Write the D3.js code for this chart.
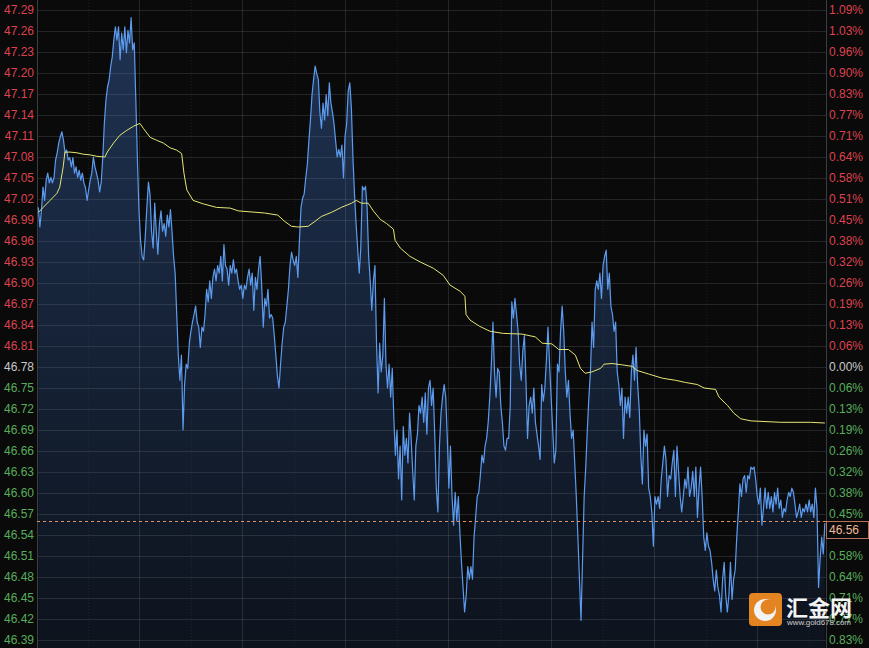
<!DOCTYPE html>
<html><head><meta charset="utf-8">
<script src="https://cdn.jsdelivr.net/npm/d3@7"></script>
<style>html,body{margin:0;padding:0;background:#0a0a0a;overflow:hidden}</style>
</head><body><svg id="c" width="869" height="648"></svg>
<script>
// ---------- data ----------
const basePrice = 46.78;
const lastPrice = 46.56;
const priceTicks = [47.29,47.26,47.23,47.20,47.17,47.14,47.11,47.08,47.05,47.02,46.99,46.96,46.93,46.90,46.87,46.84,46.81,46.78,46.75,46.72,46.69,46.66,46.63,46.60,46.57,46.54,46.51,46.48,46.45,46.42,46.39];
const sessionMinutes = 1380;
const gridMinutes = [180,360,540,720,900,1080,1260];
const halfGridMinutes = [90,270,450,630,810,990,1170,1350];
const priceStartMinute = 3.5, priceEndMinute = 1378;
const prices = [
47.008,46.980,47.004,47.037,47.018,47.047,47.057,47.043,47.051,47.043,47.051,47.076,47.086,47.100,47.109,47.116,47.104,47.086,47.090,47.076,
47.079,47.066,47.079,47.057,47.066,47.051,47.061,47.047,47.057,47.043,47.036,47.018,47.033,47.047,47.057,47.080,47.066,47.057,47.047,47.030,
47.044,47.080,47.129,47.161,47.180,47.190,47.209,47.223,47.247,47.266,47.247,47.266,47.219,47.257,47.233,47.266,47.229,47.261,47.243,47.279,
47.233,47.243,47.161,47.076,47.004,46.961,46.938,46.933,46.967,47.008,47.044,47.027,46.974,46.950,47.014,46.974,46.941,46.985,47.003,46.974,
46.985,46.967,46.997,46.980,47.005,46.974,46.938,46.914,46.855,46.797,46.761,46.797,46.690,46.755,46.784,46.778,46.814,46.831,46.844,46.855,
46.867,46.844,46.837,46.808,46.837,46.831,46.855,46.891,46.873,46.903,46.878,46.908,46.920,46.903,46.925,46.914,46.938,46.903,46.955,46.925,
46.920,46.897,46.925,46.914,46.933,46.914,46.920,46.903,46.891,46.897,46.878,46.897,46.891,46.908,46.920,46.897,46.914,46.861,46.908,46.891,
46.920,46.938,46.897,46.837,46.878,46.867,46.891,46.850,46.855,46.850,46.825,46.797,46.767,46.750,46.784,46.814,46.837,46.844,46.867,46.891,
46.925,46.944,46.933,46.925,46.938,46.908,46.961,47.008,47.021,47.027,47.050,47.069,47.103,47.133,47.169,47.191,47.210,47.199,47.191,47.144,
47.121,47.157,47.133,47.169,47.139,47.186,47.157,47.144,47.127,47.103,47.080,47.091,47.080,47.097,47.050,47.110,47.127,47.174,47.186,47.151,
47.080,47.027,46.985,46.950,46.914,46.950,47.038,47.033,47.038,47.008,46.938,46.903,46.861,46.903,46.925,46.814,46.743,46.814,46.773,46.797,
46.878,46.784,46.750,46.784,46.737,46.778,46.708,46.654,46.690,46.620,46.667,46.590,46.695,46.654,46.678,46.643,46.714,46.678,46.631,46.590,
46.667,46.684,46.725,46.714,46.737,46.701,46.743,46.684,46.750,46.761,46.725,46.750,46.684,46.607,46.573,46.667,46.714,46.737,46.755,46.737,
46.678,46.607,46.667,46.595,46.554,46.601,46.560,46.595,46.543,46.501,46.465,46.430,46.454,46.495,46.477,46.495,46.477,46.537,46.565,46.595,
46.601,46.625,46.654,46.643,46.667,46.678,46.701,46.737,46.784,46.844,46.773,46.737,46.778,46.773,46.725,46.701,46.667,46.661,46.678,46.678,
46.725,46.873,46.850,46.878,46.855,46.831,46.784,46.761,46.803,46.825,46.761,46.678,46.725,46.737,46.714,46.750,46.701,46.684,46.667,46.648,
46.755,46.731,46.750,46.790,46.837,46.784,46.737,46.690,46.643,46.661,46.784,46.773,46.831,46.867,46.831,46.773,46.737,46.761,46.714,46.678,
46.690,46.643,46.595,46.537,46.477,46.418,46.507,46.595,46.637,46.690,46.737,46.773,46.844,46.808,46.891,46.903,46.891,46.914,46.878,46.925,
46.938,46.947,46.891,46.914,46.867,46.855,46.831,46.844,46.773,46.755,46.725,46.750,46.678,46.737,46.714,46.737,46.708,46.773,46.797,46.761,
46.808,46.755,46.720,46.654,46.613,46.690,46.667,46.684,46.607,46.595,46.573,46.524,46.595,46.584,46.595,46.578,46.620,46.643,46.667,46.648,
46.595,46.625,46.620,46.643,46.661,46.595,46.667,46.631,46.595,46.573,46.595,46.620,46.607,46.637,46.595,46.607,46.631,46.595,46.637,46.565,
46.607,46.637,46.595,46.537,46.518,46.543,46.524,46.518,46.501,46.477,46.460,46.490,46.465,46.454,46.430,46.477,46.501,46.454,46.430,46.454,
46.501,46.448,46.477,46.490,46.537,46.573,46.613,46.595,46.620,46.625,46.601,46.625,46.620,46.637,46.634,46.637,46.620,46.595,46.584,46.607,
46.554,46.578,46.607,46.578,46.601,46.578,46.595,46.573,46.601,46.584,46.607,46.578,46.590,46.565,46.578,46.573,46.590,46.601,46.595,46.607,
46.601,46.584,46.565,46.573,46.584,46.565,46.578,46.573,46.584,46.573,46.590,46.573,46.584,46.565,46.607,46.578,46.465,46.507,46.537,46.513,46.557
];
const avgMinutes = [4,12,24,36,41,47,50,59,71,82,94,106,120,124,135,146,158,170,181,187,199,210,222,234,245,254,258,263,274,292,315,339,353,399,422,434,446,457,475,487,498,516,533,551,559,568,580,589,601,612,624,627,636,653,671,694,711,723,741,749,751,758,775,793,816,849,872,884,901,913,930,942,951,959,971,986,992,1006,1024,1041,1050,1070,1094,1117,1134,1155,1167,1187,1193,1208,1219,1231,1249,1301,1353,1378];
const avgPrices = [47.001,47.008,47.018,47.028,47.037,47.066,47.087,47.087,47.086,47.084,47.083,47.081,47.080,47.087,47.100,47.111,47.118,47.124,47.128,47.121,47.108,47.104,47.100,47.093,47.090,47.085,47.057,47.033,47.018,47.013,47.008,47.007,47.003,47.000,46.997,46.988,46.981,46.980,46.981,46.988,46.995,47.001,47.008,47.014,47.018,47.014,47.014,47.003,46.991,46.985,46.977,46.961,46.950,46.938,46.930,46.921,46.911,46.897,46.888,46.881,46.855,46.847,46.838,46.831,46.828,46.827,46.823,46.814,46.813,46.805,46.805,46.797,46.778,46.771,46.773,46.778,46.784,46.785,46.783,46.781,46.775,46.770,46.764,46.761,46.758,46.755,46.750,46.748,46.737,46.725,46.714,46.706,46.703,46.701,46.701,46.700];

// ---------- drawing ----------
const W = 869, H = 648;
const L = 37, R = 826;
const FONT = '"Liberation Sans", Arial, sans-serif';
const RED = '#dc434f', GREEN = '#58ad5c', GREY = '#c9c9c9';

const x = d3.scaleLinear().domain([0, sessionMinutes]).range([36.3, 826]);
const y = d3.scaleLinear().domain([46.39, 47.29]).range([640, 10]);

const priceData = prices.map((v, i) => ({
  t: priceStartMinute + i * (priceEndMinute - priceStartMinute) / (prices.length - 1), v }));
const avgData = avgMinutes.map((t, i) => ({ t, v: avgPrices[i] }));

const svg = d3.select('#c');
svg.append('rect').attr('width', W).attr('height', H).attr('fill', '#0a0a0a');

const defs = svg.append('defs');
const g = defs.append('linearGradient').attr('id', 'fill')
  .attr('gradientUnits', 'userSpaceOnUse').attr('x1', 0).attr('x2', 0).attr('y1', y(47.29)).attr('y2', H);
g.append('stop').attr('offset', 0).attr('stop-color', '#1f3353');
g.append('stop').attr('offset', 1).attr('stop-color', '#0d131d');

// area
svg.append('path').datum(priceData)
  .attr('d', d3.area().x(d => x(d.t)).y0(H).y1(d => y(d.v)))
  .attr('fill', 'url(#fill)');

// grid
const grid = svg.append('g');
grid.selectAll('line.h').data(priceTicks).join('line')
  .attr('x1', L).attr('x2', R)
  .attr('y1', d => Math.round(y(d)) + 0.5).attr('y2', d => Math.round(y(d)) + 0.5)
  .attr('stroke', '#8a8f99').attr('stroke-opacity', 0.2);
grid.selectAll('line.v').data(gridMinutes).join('line')
  .attr('x1', d => Math.round(x(d)) + 0.5).attr('x2', d => Math.round(x(d)) + 0.5)
  .attr('y1', 0).attr('y2', H)
  .attr('stroke', '#8a8f99').attr('stroke-opacity', 0.2);
grid.selectAll('line.d').data(halfGridMinutes).join('line')
  .attr('x1', d => Math.round(x(d)) + 0.5).attr('x2', d => Math.round(x(d)) + 0.5)
  .attr('y1', 0).attr('y2', H)
  .attr('stroke', '#8a8f99').attr('stroke-opacity', 0.12).attr('stroke-dasharray', '1,2');
grid.append('line').attr('x1', L + 0.5).attr('x2', L + 0.5).attr('y1', 0).attr('y2', H)
  .attr('stroke', '#3a3d42');
grid.append('line').attr('x1', R + 0.5).attr('x2', R + 0.5).attr('y1', 0).attr('y2', H)
  .attr('stroke', '#3a3d42');

// price line
svg.append('path').datum(priceData)
  .attr('d', d3.line().x(d => x(d.t)).y(d => y(d.v)))
  .attr('fill', 'none').attr('stroke', '#5c9bee').attr('stroke-width', 1.2)
  .attr('stroke-linejoin', 'round');

// average line
svg.append('path').datum(avgData)
  .attr('d', d3.line().x(d => x(d.t)).y(d => y(d.v)))
  .attr('fill', 'none').attr('stroke', '#e6e676').attr('stroke-width', 1);

// last price dashed line
const ly = Math.round(y(lastPrice)) + 0.5;
svg.append('line').attr('x1', L).attr('x2', R).attr('y1', ly).attr('y2', ly)
  .attr('stroke', '#e0925f').attr('stroke-dasharray', '3,3');

// left labels
const colorFor = v => Math.abs(v - basePrice) < 1e-9 ? GREY : (v > basePrice ? RED : GREEN);
svg.append('g').selectAll('text').data(priceTicks).join('text')
  .attr('x', 34).attr('y', d => y(d)).attr('dy', '0.36em')
  .attr('text-anchor', 'end').attr('font-family', FONT).attr('font-size', 12)
  .attr('fill', colorFor).text(d => d.toFixed(2));

// right labels (percent change from base, unsigned); the one under the last-price box is hidden
const boxTop = ly, boxH = 17;
const rightTicks = priceTicks.filter(d => !(y(d) > boxTop - 2 && y(d) < boxTop + boxH + 2));
svg.append('g').selectAll('text').data(rightTicks).join('text')
  .attr('x', 829).attr('y', d => y(d)).attr('dy', '0.36em')
  .attr('text-anchor', 'start').attr('font-family', FONT).attr('font-size', 12)
  .attr('fill', colorFor)
  .text(d => (Math.abs(d - basePrice) / basePrice * 100).toFixed(2) + '%');

// last price box
const box = svg.append('g');
box.append('rect').attr('x', R + 0.5).attr('y', boxTop).attr('width', 42).attr('height', boxH)
  .attr('fill', '#0a0a0a').attr('stroke', '#b9735b');
box.append('text').attr('x', 829).attr('y', boxTop + boxH / 2).attr('dy', '0.36em')
  .attr('font-family', FONT).attr('font-size', 12).attr('fill', '#f0b898')
  .text(lastPrice.toFixed(2));

// watermark
const wm = svg.append('g').attr('opacity', 0.95);
wm.append('rect').attr('x', 749).attr('y', 593).attr('width', 33).attr('height', 33).attr('rx', 4)
  .attr('fill', '#f08a22');
wm.append('circle').attr('cx', 765).attr('cy', 610).attr('r', 11).attr('fill', '#ffffff');
wm.append('circle').attr('cx', 768).attr('cy', 607).attr('r', 7.5).attr('fill', '#f08a22');
wm.append('text').attr('x', 786).attr('y', 616)
  .attr('font-family', '"Noto Sans CJK SC", sans-serif').attr('font-size', 22).attr('font-weight', 'bold')
  .attr('fill', '#ffffff').text('汇金网');
wm.append('text').attr('x', 787).attr('y', 625)
  .attr('font-family', FONT).attr('font-size', 8).attr('fill', '#d8d8d8')
  .attr('textLength', 64).text('www.gold678.com');
</script>
</body></html>
